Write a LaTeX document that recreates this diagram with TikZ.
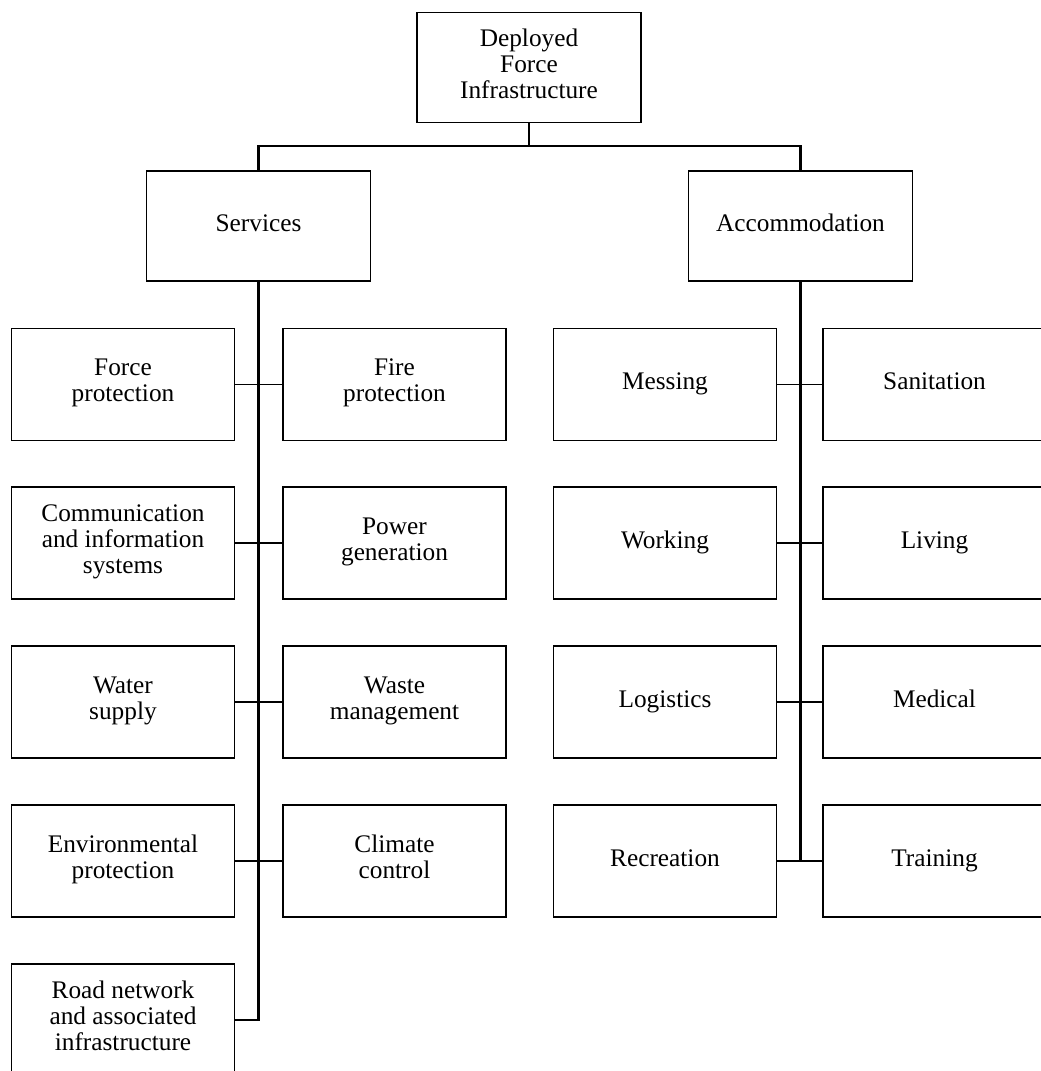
\documentclass[tikz,border=0pt]{standalone}
\usepackage{fontspec}
\setmainfont{Liberation Serif}
\begin{document}
\begin{tikzpicture}[x=0.025cm, y=-0.025cm,
            every node/.style = {draw, rectangle, align=center, fill=white, line width=1.3pt,
                                 font=\fontsize{18}{18.5}\selectfont, inner sep=0pt,
                                 execute at begin node=\strut, execute at end node=\strut},
            box/.style = {minimum width=5.575cm, minimum height=2.8cm},
            head/.style = {minimum width=5.6cm, minimum height=2.75cm},
            link/.style = {line width=1.1pt},
            trunk/.style = {line width=1.6pt}]
            \useasboundingbox (0,0) rectangle (1040,1071);
            \node[head] (dfi) at (529,67.5) {Deployed\\Force\\Infrastructure};
            \node[head] (svc) at (258.5,226) {Services};
            \node[head] (acc) at (800.5,226) {Accommodation};
            \coordinate (bus) at (529,146);
            % services
            \node[box] (forcep) at (123,384.5) {Force\\protection};
            \node[box] (firep) at (394.5,384.5) {Fire\\protection};
            \node[box] (cis) at (123,543) {Communication\\and information\\systems};
            \node[box] (power) at (394.5,543) {Power\\generation};
            \node[box] (water) at (123,702) {Water\\supply};
            \node[box] (waste) at (394.5,702) {Waste\\management};
            \node[box] (envp) at (123,861) {Environmental\\protection};
            \node[box] (climate) at (394.5,861) {Climate\\control};
            \node[box] (road) at (123,1020) {Road network\\and associated\\infrastructure};
            % accommodation
            \node[box] (messing) at (665,384.5) {Messing};
            \node[box] (sanit) at (934.5,384.5) {Sanitation};
            \node[box] (working) at (665,543) {Working};
            \node[box] (living) at (934.5,543) {Living};
            \node[box] (logist) at (665,702) {Logistics};
            \node[box] (medical) at (934.5,702) {Medical};
            \node[box] (recr) at (665,861) {Recreation};
            \node[box] (train) at (934.5,861) {Training};
            % connectors
            \draw[trunk] (dfi.south) -- (bus);
            \draw[trunk] (svc.north) |- (bus) -| (acc.north);
            \draw[trunk] (svc.south) |- (road.east);
            \draw[trunk] (acc.south) -- (acc.south |- recr.east);
            \draw[link] (forcep.east) -- (firep.west);
            \draw[link] (cis.east) -- (power.west);
            \draw[link] (water.east) -- (waste.west);
            \draw[link] (envp.east) -- (climate.west);
            \draw[link] (messing.east) -- (sanit.west);
            \draw[link] (working.east) -- (living.west);
            \draw[link] (logist.east) -- (medical.west);
            \draw[link] (recr.east) -- (train.west);
\end{tikzpicture}
\end{document}
